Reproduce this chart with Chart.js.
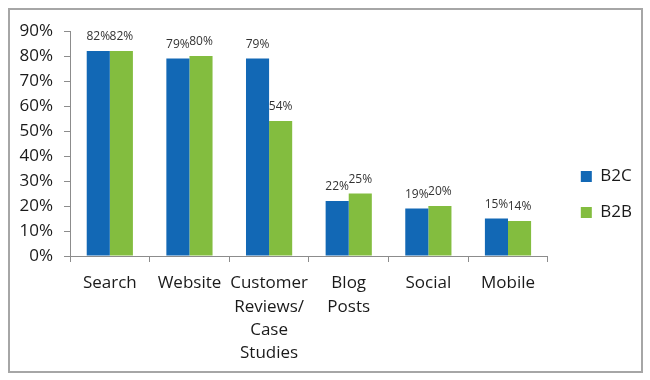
<!DOCTYPE html>
<html>
<head>
<meta charset="utf-8">
<script src="https://cdn.jsdelivr.net/npm/chart.js@4.4.0/dist/chart.umd.min.js"></script>
<style>
    body { margin: 0; background: #fff; }
    #frame { position: absolute; left: 8px; top: 8px; width: 631px; height: 361px; border: 2px solid #a6a6a6; }
    #wrap { position: absolute; left: 0; top: 0; width: 650px; height: 380px; }
</style>
</head>
<body>
<div id="frame"></div>
<div id="wrap"><canvas id="myChart" width="650" height="380"></canvas></div>
<script>
var categories = ['Search', 'Website', ['Customer', 'Reviews/', 'Case', 'Studies'], ['Blog', 'Posts'], 'Social', 'Mobile'];
var b2c = [82, 79, 79, 22, 19, 15];
var b2b = [82, 80, 54, 25, 20, 14];
var yTicks = [0, 10, 20, 30, 40, 50, 60, 70, 80, 90];

// draws the value above each bar
var valueLabels = {
    id: 'valueLabels',
    afterDatasetsDraw: function (chart) {
        var ctx = chart.ctx;
        ctx.save();
        ctx.font = '12px "Open Sans"';
        ctx.fillStyle = '#333';
        ctx.textAlign = 'center';
        ctx.textBaseline = 'alphabetic';
        chart.data.datasets.forEach(function (ds, i) {
            chart.getDatasetMeta(i).data.forEach(function (bar, j) {
                ctx.fillText(ds.data[j] + '%', bar.x, bar.y - 11);
            });
        });
        ctx.restore();
    }
};

// nudge the legend a bit right and up, away from the plot
var legendNudge = {
    id: 'legendNudge',
    afterLayout: function (chart) {
        var lg = chart.legend;
        lg.left += 14;
        lg.right += 14;
        lg.top -= 11;
        lg.bottom -= 11;
    }
};

var ctx = document.getElementById('myChart');
var myChart = new Chart(ctx, {
    type: 'bar',
    data: {
        labels: categories,
        datasets: [{
            label: 'B2C',
            data: b2c,
            backgroundColor: '#1268B5'
        }, {
            label: 'B2B',
            data: b2b,
            backgroundColor: '#83BD3F'
        }]
    },
    options: {
        responsive: false,
        animation: false,
        layout: { padding: { top: 31, left: 12, right: 22, bottom: 0 } },
        datasets: {
            bar: { categoryPercentage: 0.58, barPercentage: 1.0 }
        },
        scales: {
            x: {
                afterFit: function (s) { s.height = 124; },
                grid: { drawOnChartArea: false, offset: true, color: '#8c8c8c', tickLength: 6 },
                border: { color: '#8c8c8c' },
                ticks: { color: '#1a1a1a', font: { family: 'Open Sans', size: 17, lineHeight: 1.37 }, padding: 10, maxRotation: 0, autoSkip: false }
            },
            y: {
                min: 0,
                max: 90,
                afterFit: function (s) { s.width = 58; },
                afterBuildTicks: function (s) { s.ticks = yTicks.map(function (v) { return { value: v }; }); },
                grid: { drawOnChartArea: false, color: '#8c8c8c', tickLength: 6 },
                border: { color: '#8c8c8c' },
                ticks: {
                    color: '#1a1a1a',
                    font: { family: 'Open Sans', size: 17 },
                    padding: 11,
                    callback: function (v) { return v + '%'; }
                }
            }
        },
        plugins: {
            legend: {
                position: 'right',
                align: 'center',
                labels: { boxWidth: 11, boxHeight: 11, color: '#1a1a1a', font: { family: 'Open Sans', size: 17 }, padding: 19 }
            },
            tooltip: { enabled: false }
        }
    },
    plugins: [valueLabels, legendNudge]
});
</script>
</body>
</html>
